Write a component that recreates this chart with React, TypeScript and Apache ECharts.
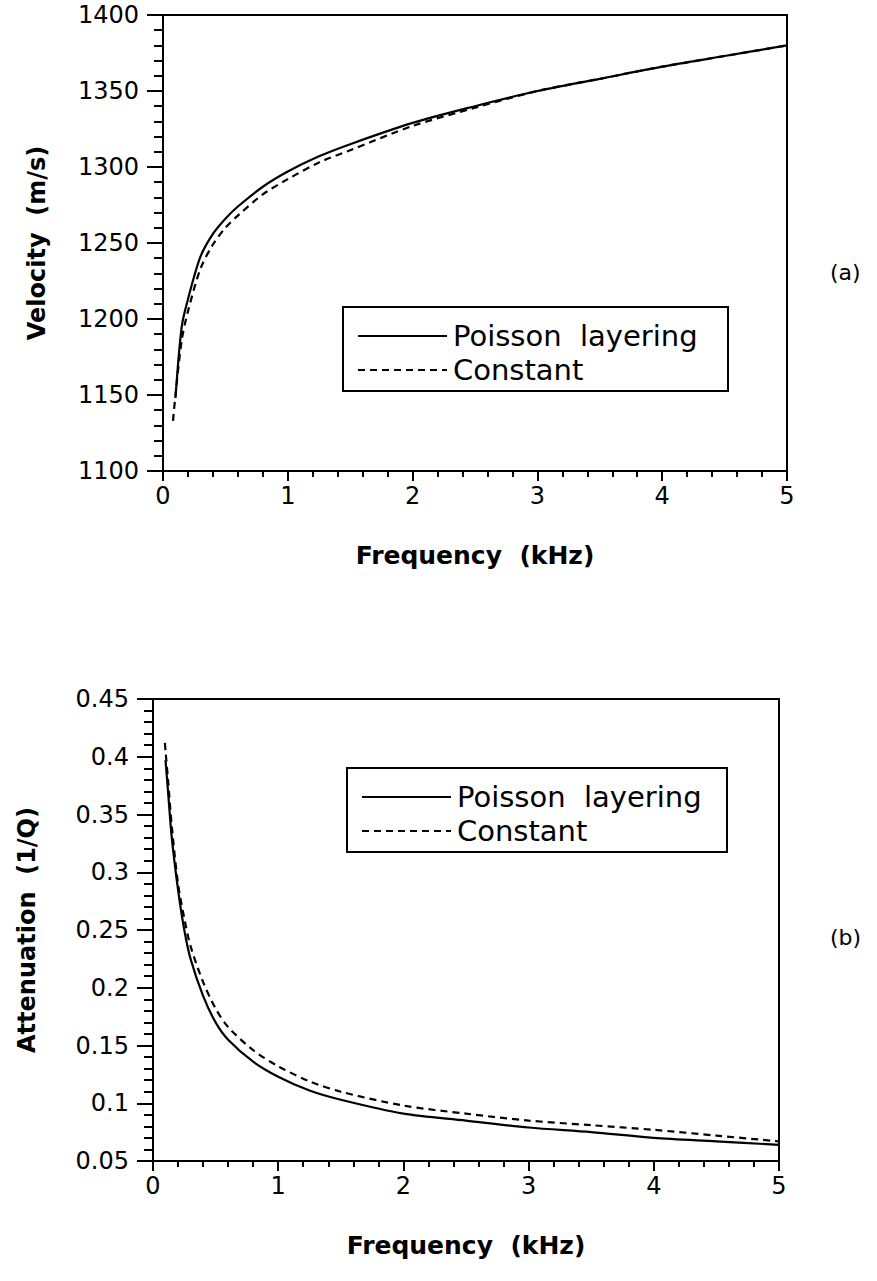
import React, { useEffect, useRef } from "react";
import * as echarts from "echarts";

// ---- Data ----
const velFreqPoisson = [0.1, 0.15, 0.2, 0.3, 0.4, 0.5, 0.6, 0.8, 1, 1.25, 1.5, 2, 2.5, 3, 3.5, 4, 4.5, 5];
const velPoisson = [1148, 1195, 1213, 1241, 1256, 1266, 1274, 1287, 1297, 1307, 1315, 1329, 1340, 1350, 1358, 1366, 1373, 1380];
const velFreqConstant = [0.08, 0.1, 0.15, 0.2, 0.3, 0.4, 0.5, 0.6, 0.8, 1, 1.25, 1.5, 2, 2.5, 3, 3.5, 4, 4.5, 5];
const velConstant = [1133, 1150, 1186, 1205, 1233, 1249, 1260, 1268, 1282, 1292, 1303, 1311, 1327, 1339, 1350, 1358, 1366, 1373, 1380];

const attFreq = [0.1, 0.12, 0.15, 0.2, 0.25, 0.3, 0.4, 0.5, 0.6, 0.8, 1, 1.25, 1.5, 2, 2.5, 3, 3.5, 4, 4.5, 5];
const attPoisson = [0.397, 0.37, 0.33, 0.285, 0.25, 0.225, 0.193, 0.17, 0.155, 0.136, 0.123, 0.111, 0.103, 0.091, 0.085, 0.079, 0.075, 0.07, 0.067, 0.064];
const attFreqConstant = [0.095, 0.1, 0.12, 0.15, 0.2, 0.25, 0.3, 0.4, 0.5, 0.6, 0.8, 1, 1.25, 1.5, 2, 2.5, 3, 3.5, 4, 4.5, 5];
const attConstant = [0.412, 0.405, 0.38, 0.34, 0.29, 0.26, 0.236, 0.205, 0.182, 0.166, 0.146, 0.132, 0.119, 0.11, 0.098, 0.091, 0.085, 0.081, 0.077, 0.072, 0.067];

const seriesNames = ["Poisson  layering", "Constant"];
const panelLabels = ["(a)", "(b)"];
const xTitle = "Frequency  (kHz)";
const yTitles = ["Velocity  (m/s)", "Attenuation  (1/Q)"];

const FONT = "'DejaVu Sans', Verdana, sans-serif";

const zip = (xs: number[], ys: number[]) => xs.map((x, i) => [x, ys[i]]);

function xAxisCfg(gridIndex: number) {
  return {
    type: "value",
    gridIndex,
    min: 0,
    max: 5,
    interval: 1,
    name: xTitle,
    nameLocation: "middle",
    nameGap: 72,
    nameTextStyle: { fontFamily: FONT, fontSize: 25, fontWeight: "bold", color: "#000" },
    axisLine: { show: true, onZero: false, lineStyle: { color: "#000", width: 2 } },
    axisTick: { show: true, inside: false, length: 10, lineStyle: { color: "#000", width: 2 } },
    minorTick: { show: true, splitNumber: 5, length: 6, lineStyle: { color: "#000", width: 2 } },
    axisLabel: { fontFamily: FONT, fontSize: 24, color: "#000", margin: 13 },
    splitLine: { show: false },
  };
}

function yAxisCfg(gridIndex: number, min: number, max: number, interval: number, name: string, fmt: (v: number) => string, gap: number) {
  return {
    type: "value",
    gridIndex,
    min,
    max,
    interval,
    name,
    nameLocation: "middle",
    nameRotate: 90,
    nameGap: gap,
    nameTextStyle: { fontFamily: FONT, fontSize: 24, fontWeight: "bold", color: "#000" },
    axisLine: { show: true, onZero: false, lineStyle: { color: "#000", width: 2 } },
    axisTick: { show: true, inside: false, length: 16, lineStyle: { color: "#000", width: 2 } },
    minorTick: { show: true, splitNumber: 5, length: 9, lineStyle: { color: "#000", width: 2 } },
    axisLabel: { fontFamily: FONT, fontSize: 24, color: "#000", margin: 24, formatter: fmt },
    splitLine: { show: false },
  };
}

function legendGraphic(x: number, y: number, w: number, h: number) {
  const row1 = y + 29;
  const row2 = y + 63;
  const lx0 = x + 15;
  const lx1 = x + 104;
  const tx = x + 110;
  const ts = { fontFamily: FONT, fontSize: 29, fill: "#000", verticalAlign: "middle", textAlign: "left" };
  return {
    type: "group",
    children: [
      { type: "rect", shape: { x, y, width: w, height: h }, style: { fill: "#fff", stroke: "#000", lineWidth: 2 }, z: 10 },
      { type: "line", shape: { x1: lx0, y1: row1, x2: lx1, y2: row1 }, style: { stroke: "#000", lineWidth: 2 }, z: 11 },
      { type: "text", x: tx, y: row1, style: { ...ts, text: seriesNames[0] }, z: 11 },
      { type: "line", shape: { x1: lx0, y1: row2, x2: lx1, y2: row2 }, style: { stroke: "#000", lineWidth: 2, lineDash: [7, 5] }, z: 11 },
      { type: "text", x: tx, y: row2, style: { ...ts, text: seriesNames[1] }, z: 11 },
    ],
  };
}

export default function App() {
  const ref = useRef<HTMLDivElement>(null);
  useEffect(() => {
    if (!ref.current) return;
    const chart = echarts.init(ref.current, undefined, { renderer: "svg" });
    const lineBase = { type: "line", symbol: "none", showSymbol: false, smooth: 0.3, z: 3 };
    chart.setOption({
      animation: false,
      backgroundColor: "#fff",
      grid: [
        { left: 163, top: 15, width: 624, height: 456, show: true, borderColor: "#000", borderWidth: 2, backgroundColor: "transparent" },
        { left: 153, top: 699, width: 626, height: 462, show: true, borderColor: "#000", borderWidth: 2, backgroundColor: "transparent" },
      ],
      xAxis: [xAxisCfg(0), xAxisCfg(1)],
      yAxis: [
        yAxisCfg(0, 1100, 1400, 50, yTitles[0], (v: number) => String(v), 114),
        yAxisCfg(1, 0.05, 0.45, 0.05, yTitles[1], (v: number) => String(+v.toFixed(2)), 114),
      ],
      series: [
        { ...lineBase, name: seriesNames[0], xAxisIndex: 0, yAxisIndex: 0, data: zip(velFreqPoisson, velPoisson), lineStyle: { color: "#000", width: 2.2, type: "solid" }, itemStyle: { color: "#000" } },
        { ...lineBase, name: seriesNames[1], xAxisIndex: 0, yAxisIndex: 0, data: zip(velFreqConstant, velConstant), lineStyle: { color: "#000", width: 2.2, type: [7, 5] }, itemStyle: { color: "#000" } },
        { ...lineBase, name: seriesNames[0], xAxisIndex: 1, yAxisIndex: 1, data: zip(attFreq, attPoisson), lineStyle: { color: "#000", width: 2.2, type: "solid" }, itemStyle: { color: "#000" } },
        { ...lineBase, name: seriesNames[1], xAxisIndex: 1, yAxisIndex: 1, data: zip(attFreqConstant, attConstant), lineStyle: { color: "#000", width: 2.2, type: [7, 5] }, itemStyle: { color: "#000" } },
      ],
      graphic: [
        legendGraphic(343, 307, 385, 84),
        legendGraphic(347, 768, 380, 84),
        { type: "text", x: 830, y: 272, style: { text: panelLabels[0], fontFamily: FONT, fontSize: 22, fill: "#000", verticalAlign: "middle" } },
        { type: "text", x: 830, y: 937, style: { text: panelLabels[1], fontFamily: FONT, fontSize: 22, fill: "#000", verticalAlign: "middle" } },
      ],
    });
    return () => chart.dispose();
  }, []);
  return (
    <div
      ref={ref}
      style={{ position: "absolute", left: 0, top: 0, width: 877, height: 1281, background: "#fff" }}
    />
  );
}
